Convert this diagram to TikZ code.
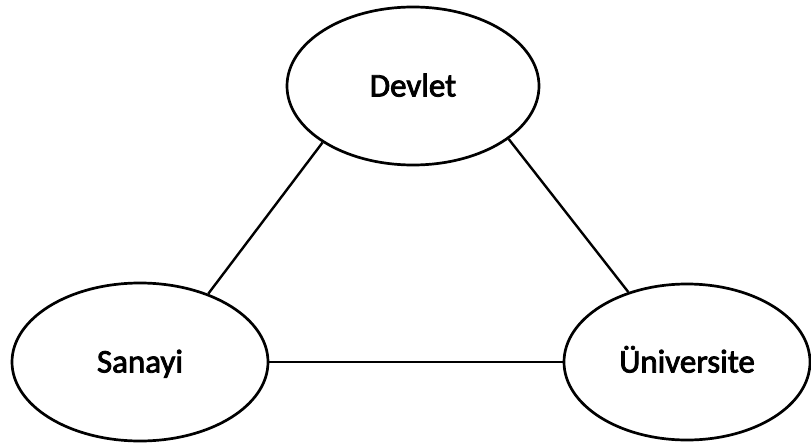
\documentclass[tikz,border=0pt]{standalone}
\usepackage{fontspec}
\setmainfont{Carlito}[FakeBold=2.5]
\usetikzlibrary{shapes.geometric}
\begin{document}
\begin{tikzpicture}[x=1pt,y=-1pt,
  blob/.style={draw, line width=2.7pt, ellipse, inner sep=0pt, text height=21pt, text depth=0pt,
    font=\fontsize{33}{40}\selectfont},
  link/.style={line width=2.4pt}]
\useasboundingbox (0,0) rectangle (811,444);
\node[blob, minimum width=252, minimum height=158] (dev) at (413,86) {Devlet};
\node[blob, minimum width=256, minimum height=158] (san) at (140,362) {Sanayi};
\node[blob, minimum width=246, minimum height=156] (uni) at (687,362) {Üniversite};
\draw[link] (dev.212) -- (san.45);
\draw[link] (dev.331) -- (uni.130);
\draw[link] (san.east) -- (uni.west);
\end{tikzpicture}
\end{document}
